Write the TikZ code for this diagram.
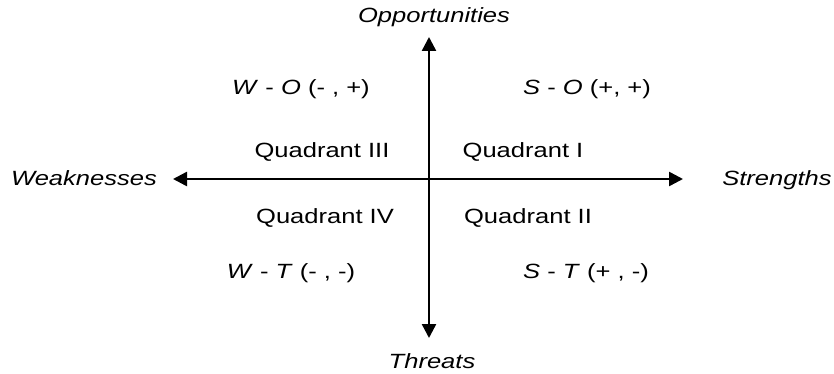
\documentclass[tikz,border=0pt]{standalone}
\usepackage{fontspec}
\setmainfont{Liberation Sans}[FakeStretch=1.24]
\usetikzlibrary{arrows.meta}

\begin{document}
\begin{tikzpicture}[x=0.5pt,y=-0.5pt,font=\fontsize{10.3}{12}\selectfont,
    axis/.style={line width=1.25pt,
      {Triangle[length=7pt,width=7pt]}-{Triangle[length=7pt,width=7pt]}},
    pole/.style={anchor=base,font=\fontsize{10.3}{12}\selectfont\itshape},
    quad/.style={anchor=base}]
  \useasboundingbox (0,0) rectangle (834,374);
  % axes
  \coordinate (west) at (173,179);
  \coordinate (east) at (683,179);
  \coordinate (north) at (429,37);
  \coordinate (south) at (429,338);
  \draw[axis] (west) -- (east);
  \draw[axis] (south) -- (north);
  % axis ends
  \node[pole] (opp) at (434,23) {Opportunities};
  \node[pole] (thr) at (432,368) {Threats};
  \node[pole] (weak) at (84,185) {Weaknesses};
  \node[pole] (str) at (777,185) {Strengths};
  % quadrants
  \node[quad] (q3) at (322,157) {Quadrant III};
  \node[quad] (q1) at (523,157) {Quadrant I};
  \node[quad] (q4) at (325,223) {Quadrant IV};
  \node[quad] (q2) at (528,223) {Quadrant II};
  % strategy pairs
  \node[quad] (wo) at (301,95) {\textit{W} - \textit{O} (- , +)};
  \node[quad] (so) at (587,95) {\textit{S} - \textit{O} (+, +)};
  \node[quad] (wt) at (291,278) {\textit{W} - \textit{T} (- , -)};
  \node[quad] (st) at (586,278) {\textit{S} - \textit{T} (+ , -)};
\end{tikzpicture}
\end{document}
